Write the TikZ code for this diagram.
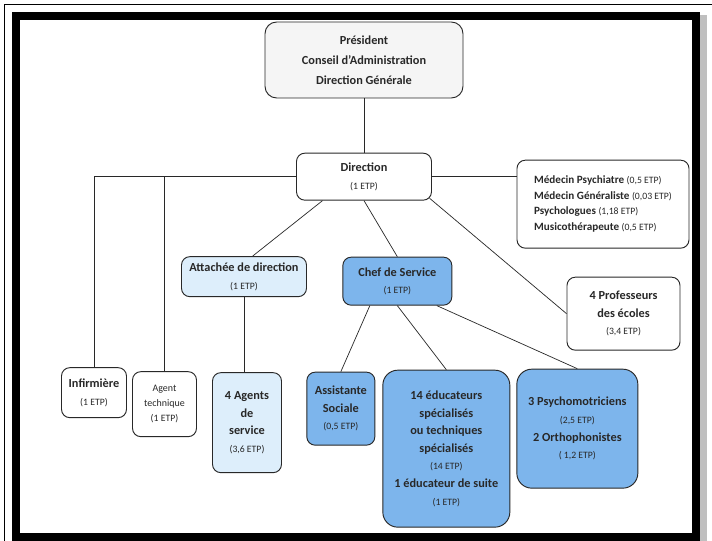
\documentclass[tikz,border=0pt]{standalone}
\usepackage{fontspec}
\setmainfont{Carlito}
\usepackage{tikz}
\usetikzlibrary{positioning}
\definecolor{paleblue}{RGB}{221,238,251}
\definecolor{deepblue}{RGB}{125,181,236}
\definecolor{paper}{RGB}{245,245,245}
\definecolor{ink}{RGB}{40,40,40}
\newcommand{\etp}[1]{{\mdseries\fontsize{8.3}{9}\selectfont(#1 ETP)}}
\tikzstyle{unit} = [rectangle, rounded corners=0.25cm, draw=ink, line width=0.8pt, fill=white, text=ink, align=center, inner sep=1pt, font=\bfseries\fontsize{10.5}{15}\selectfont]
\tikzstyle{pale} = [unit, fill=paleblue]
\tikzstyle{deep} = [unit, fill=deepblue]
\tikzstyle{link} = [draw=ink, line width=0.6pt]

\begin{document}
\begin{tikzpicture}[node distance=3cm]

% page frame
\useasboundingbox (0,0) rectangle (21.36,-16.23);
\fill[black!25] (0.45,-0.45) rectangle (21.2,-16.23);
\fill[black] (0.36,-0.36) rectangle (21.0,-16.23);
\fill[white] (0.6,-0.6) rectangle (20.76,-15.99);
\draw[line width=0.6pt] (0.12,-16.23) -- (0.12,-0.12) -- (21.36,-0.12);

\node (pres) [unit, fill=paper, rounded corners=0.35cm, minimum width=5.94cm, minimum height=2.28cm, font=\bfseries\fontsize{10.5}{17}\selectfont] at (10.92,-1.8) {Président\\Conseil d’Administration\\Direction Générale};
\node (dir) [unit, below of=pres, yshift=-0.5cm, minimum width=4.05cm, minimum height=1.41cm] {Direction\\\etp{1}};
\node (med) [unit, right of=dir, xshift=4.17cm, yshift=-0.825cm, minimum width=5.16cm, minimum height=2.64cm, align=left, font=\bfseries\fontsize{9.5}{13.2}\selectfont] {Médecin Psychiatre \etp{0,5}\\Médecin Généraliste \etp{0,03}\\Psychologues \etp{1,18}\\Musicothérapeute \etp{0,5}};
\node (att) [pale, below of=dir, xshift=-3.6cm, minimum width=3.75cm, minimum height=1.2cm] {Attachée de direction\\\etp{1}};
\node (chef) [deep, below of=dir, xshift=1.0cm, yshift=-0.135cm, minimum width=3.27cm, minimum height=1.44cm] {Chef de Service\\\etp{1}};
\node (prof) [unit, below of=med, xshift=0.615cm, yshift=-0.285cm, minimum width=3.39cm, minimum height=2.19cm] {4 Professeurs\\des écoles\\\etp{3,4}};
\node (inf) [unit, below of=att, xshift=-4.5cm, yshift=-0.48cm, minimum width=1.95cm, minimum height=1.5cm] {Infirmière\\\etp{1}};
\node (agt) [unit, right of=inf, xshift=-0.885cm, yshift=-0.345cm, minimum width=1.92cm, minimum height=1.95cm, font=\fontsize{8.5}{12.8}\selectfont] {Agent\\technique\\\etp{1}};
\node (serv) [pale, below of=att, xshift=0.09cm, yshift=-1.38cm, minimum width=2.07cm, minimum height=3.0cm] {4 Agents\\de\\service\\\etp{3,6}};
\node (soc) [deep, below of=chef, xshift=-1.695cm, yshift=-0.825cm, minimum width=2.04cm, minimum height=2.19cm] {Assistante\\Sociale\\\etp{0,5}};
\node (educ) [deep, rounded corners=0.45cm, below of=chef, xshift=1.47cm, yshift=-2.025cm, minimum width=3.81cm, minimum height=4.71cm] {14 éducateurs\\spécialisés\\ou techniques\\spécialisés\\\etp{14}\\1 éducateur de suite\\\etp{1}};
\node (psy) [deep, rounded corners=0.45cm, below of=chef, xshift=5.4cm, yshift=-1.425cm, minimum width=3.63cm, minimum height=3.57cm] {3 Psychomotriciens\\\etp{2,5}\\2 Orthophonistes\\\etp{\ 1,2}};

\draw [link] (pres) -- (dir);
\draw [link] (dir.east) -- (dir.east -| med.west);
\draw [link] (dir.west) -| (inf.north);
\draw [link] (dir.west -| agt.north) -- (agt.north);
\draw [link] ([xshift=-1.245cm]dir.south) -- ([xshift=0.255cm]att.north);
\draw [link] (dir.south) -- (chef.north);
\draw [link] ([shift={(-0.07,0.07)}]dir.south east) -- (prof.west);
\draw [link] (att.south) -- (att.south |- serv.north);
\draw [link] ([xshift=-0.825cm]chef.south) -- (soc.north);
\draw [link] (chef.south) -- (educ.north);
\draw [link] ([xshift=1.185cm]chef.south) -- (psy.north);

\end{tikzpicture}
\end{document}
